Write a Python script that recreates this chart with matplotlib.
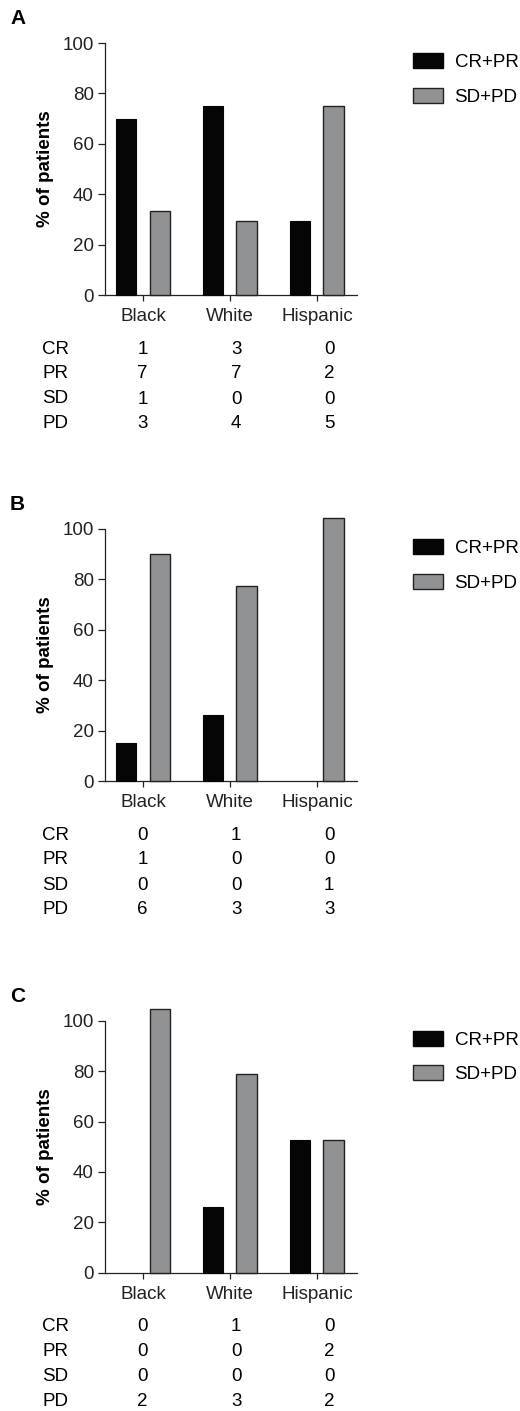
# Response by ethnicity: three panels of grouped bars with count tables underneath

import numpy as np
import matplotlib.pyplot as plt
from matplotlib.transforms import blended_transform_factory

plt.rcParams['font.family'] = ['Liberation Sans', 'DejaVu Sans']

# Data
groups = ['Black', 'White', 'Hispanic']
panel_labels = ['A', 'B', 'C']
series_names = ['CR+PR', 'SD+PD']
row_names = ['CR', 'PR', 'SD', 'PD']

crpr_a = [70, 75, 29.5]
sdpd_a = [33.5, 29.5, 75]
crpr_b = [15, 26, 0]
sdpd_b = [90, 77.5, 104.5]
crpr_c = [0, 26, 52.5]
sdpd_c = [104.5, 79, 52.5]

counts_a = [[1, 3, 0], [7, 7, 2], [1, 0, 0], [3, 4, 5]]
counts_b = [[0, 1, 0], [1, 0, 0], [0, 0, 1], [6, 3, 3]]
counts_c = [[0, 1, 0], [0, 0, 2], [0, 0, 0], [2, 3, 2]]

panels = [(crpr_a, sdpd_a, counts_a), (crpr_b, sdpd_b, counts_b), (crpr_c, sdpd_c, counts_c)]

# Layout (pixels of a 520x1411 figure)
W, H = 520, 1411
ax_left, ax_w, ax_h = 105, 252, 252
ax_bottoms = [295, 781, 1272.7]
letter_y = [18.5, 504.5, 997]
black = '#050505'
grey = '#909294'
edge = '#222222'
table_x = [-0.01, 1.07, 2.14]
row_offsets = [54, 79, 104, 129]
fs = 13.5

fig = plt.figure(figsize=(W / 100, H / 100), dpi=100)
x = np.arange(len(groups))

for i, (crpr, sdpd, counts) in enumerate(panels):
    ax = fig.add_axes([ax_left / W, 1 - ax_bottoms[i] / H, ax_w / W, ax_h / H])
    b1 = ax.bar(x - 0.198, crpr, width=0.235, color=black, edgecolor=black,
                linewidth=[0.8 if v > 0 else 0 for v in crpr],
                clip_on=False, label=series_names[0], zorder=3)
    b2 = ax.bar(x + 0.19, sdpd, width=0.235, color=grey, edgecolor=edge,
                linewidth=[1.0 if v > 0 else 0 for v in sdpd],
                clip_on=False, label=series_names[1], zorder=3)
    ax.set_xlim(-0.44, 2.46)
    ax.set_ylim(0, 100)
    ax.set_yticks([0, 20, 40, 60, 80, 100])
    ax.set_xticks(x)
    ax.set_xticklabels(groups, fontsize=fs)
    ax.tick_params(axis='y', labelsize=fs, length=5, width=0.9, pad=3, colors='#222222')
    ax.tick_params(axis='x', length=4.5, width=0.9, pad=5, colors='#222222')
    ax.spines['top'].set_visible(False)
    ax.spines['right'].set_visible(False)
    for s in ['left', 'bottom']:
        ax.spines[s].set_linewidth(0.9)
        ax.spines[s].set_color('#222222')
    ax.set_ylabel('% of patients', fontsize=fs, fontweight='bold', labelpad=6)

    lg = ax.legend(handles=[b1, b2], loc='upper left', bbox_to_anchor=(1.222, 0.96),
                   frameon=False, fontsize=fs, borderpad=0, borderaxespad=0,
                   handlelength=1.6, handleheight=0.85, handletextpad=0.62, labelspacing=0.88)
    for h in lg.legend_handles:
        h.set_linewidth(1.0)

    trans = blended_transform_factory(ax.transData, ax.transAxes)
    for r, name in enumerate(row_names):
        yy = -row_offsets[r] / ax_h
        fig.text(42 / W, 1 - (ax_bottoms[i] + row_offsets[r]) / H, name, fontsize=fs,
                 ha='left', va='center')
        for j in range(len(groups)):
            ax.text(table_x[j], yy, str(counts[r][j]), transform=trans, fontsize=fs,
                    ha='center', va='center')

    fig.text(10 / W, 1 - letter_y[i] / H, panel_labels[i], fontsize=15, fontweight='bold',
             ha='left', va='center')

plt.savefig('out.png', dpi=100)
